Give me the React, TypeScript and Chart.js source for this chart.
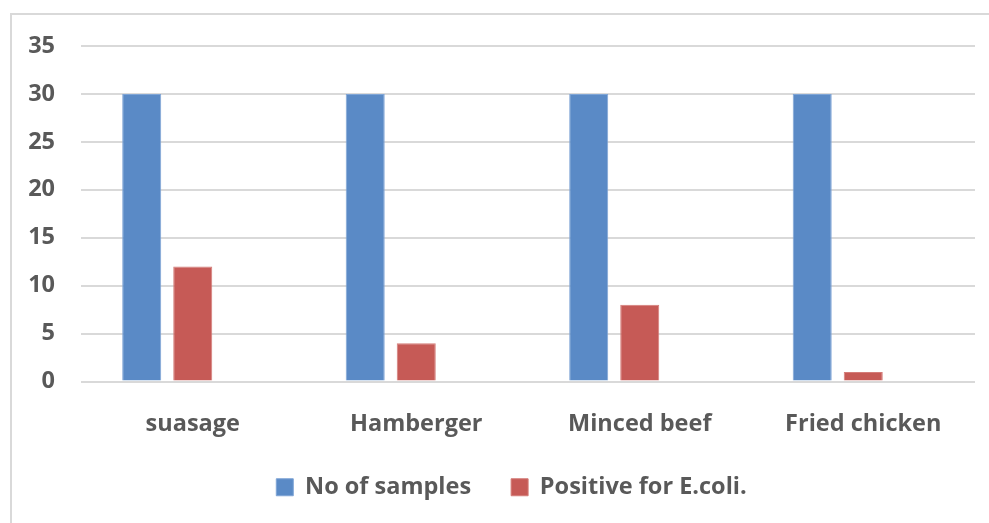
import React, { useEffect, useRef } from "react";
import { Chart, registerables } from "chart.js";

Chart.register(...registerables);

const categories = ["suasage", "Hamberger", "Minced beef", "Fried chicken"];
const samples = [30, 30, 30, 30];
const positive = [12, 4, 8, 1];
const spare = [null, null, null, null];
const yTicks = [0, 5, 10, 15, 20, 25, 30, 35];

const FONT = "'Open Sans', 'DejaVu Sans', sans-serif";
const FONT_SIZE = 23.5;

const legendShift = {
  id: "legendShift",
  afterLayout(chart: any) {
    const lg = chart.legend;
    if (!lg) return;
    const dx = 24;
    const dy = -6;
    lg.left += dx;
    lg.right += dx;
    lg.top += dy;
    lg.bottom += dy;
  },
};

export default function App() {
  const ref = useRef<HTMLCanvasElement | null>(null);

  useEffect(() => {
    document.body.style.margin = "0";
    document.body.style.overflow = "hidden";
    const ctx = ref.current!;
    const chart = new Chart(ctx, {
      type: "bar",
      data: {
        labels: categories,
        datasets: [
          {
            label: "No of samples",
            data: samples,
            backgroundColor: "#5A8AC6",
            borderColor: "#7FA5D6",
            borderWidth: 1,
            categoryPercentage: 0.685,
            barPercentage: 0.765,
          },
          {
            label: "Positive for E.coli.",
            data: positive,
            backgroundColor: "#C65A56",
            borderColor: "#D47C78",
            borderWidth: 1,
            categoryPercentage: 0.685,
            barPercentage: 0.765,
          },
          {
            label: "",
            data: spare as any,
            backgroundColor: "#9BBB59",
            categoryPercentage: 0.685,
            barPercentage: 0.765,
          },
        ],
      },
      plugins: [legendShift],
      options: {
        animation: false,
        responsive: false,
        maintainAspectRatio: false,
        layout: { padding: { top: 46, right: 14, left: 0, bottom: 8 } },
        plugins: {
          tooltip: { enabled: false },
          legend: {
            position: "bottom",
            labels: {
              filter: (item: any) => item.text !== "",
              boxWidth: 17,
              boxHeight: 17,
              padding: 40,
              color: "#595959",
              font: { family: FONT, size: FONT_SIZE, weight: "bold" },
            },
          },
        },
        scales: {
          x: {
            grid: { display: false, drawTicks: false },
            border: { display: false },
            ticks: {
              color: "#595959",
              padding: 29,
              font: { family: FONT, size: FONT_SIZE, weight: "bold" },
            },
            afterFit: (s: any) => {
              s.height = 60;
            },
          },
          y: {
            min: 0,
            max: 35,
            afterBuildTicks: (s: any) => {
              s.ticks = yTicks.map((v) => ({ value: v }));
            },
            grid: { color: "#D9D9D9", lineWidth: 2, drawTicks: false },
            border: { display: false },
            ticks: {
              color: "#595959",
              padding: 26,
              font: { family: FONT, size: FONT_SIZE, weight: "bold" },
            },
            afterFit: (s: any) => {
              s.width = 81;
            },
          },
        },
      },
    });
    return () => chart.destroy();
  }, []);

  return (
    <div style={{ position: "relative", width: 989, height: 523, overflow: "hidden", background: "#fff" }}>
      <div
        style={{
          position: "absolute",
          left: 10,
          top: 13,
          width: 990,
          height: 600,
          borderTop: "2px solid #D9D9D9",
          borderLeft: "2px solid #D9D9D9",
        }}
      />
      <canvas ref={ref} width={989} height={523} style={{ position: "absolute", left: 0, top: 0 }} />
    </div>
  );
}
